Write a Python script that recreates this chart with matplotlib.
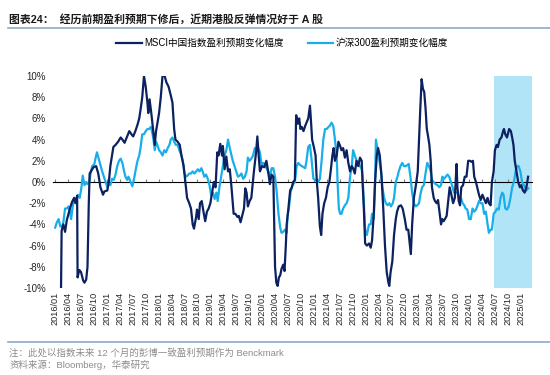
import matplotlib
matplotlib.use("Agg")
import matplotlib.pyplot as plt
import numpy as np

plt.rcParams['font.family'] = ['Liberation Sans', 'Noto Sans CJK SC', 'DejaVu Sans']

# months since 2016/01, value in %
msci_pts = [
    (0, -12.0), (1.3, -12.5), (1.5, -4.6), (1.9, -4.0), (2.3, -4.7), (2.7, -3.6), (3.1, -3.0),
    (3.5, -2.4), (3.9, -1.9), (4.4, -1.5), (4.7, -2.0), (5.1, -1.3), (5.2, -9.0), (5.6, -8.3),
    (6.0, -8.5), (6.5, -9.3), (6.8, -9.5), (7.2, -9.2), (7.5, -8.0), (7.8, -2.0), (8.0, 0.8),
    (8.3, 1.0), (8.9, 1.4), (9.5, 1.5), (10.0, 0.8), (10.5, -0.5), (11.1, -1.2), (11.4, -0.9),
    (12.1, -0.8), (12.5, 0.2), (12.8, 1.5), (13.5, 3.3), (14.0, 3.5), (14.6, 3.8), (15.2, 4.2),
    (15.6, 4.0), (16.1, 3.7), (16.7, 4.3), (17.2, 4.8), (17.7, 4.5), (18.1, 4.3), (18.6, 4.8),
    (19.1, 5.4), (19.5, 6.0), (19.8, 6.8), (20.2, 8.0), (20.6, 10.0), (21.0, 9.0), (21.4, 7.5),
    (21.6, 6.5), (21.9, 7.8), (22.3, 6.5), (22.7, 5.0), (23.1, 3.5), (23.4, 4.8), (23.7, 5.5),
    (24.1, 6.5), (24.5, 8.0), (24.9, 10.0), (25.4, 10.0), (25.8, 9.4), (26.3, 9.0), (26.8, 8.2),
    (27.2, 7.5), (27.6, 5.0), (27.9, 4.0), (28.4, 3.8), (28.9, 3.5), (29.3, 2.5), (29.8, 1.5),
    (30.2, 0.0), (30.6, -1.5), (31.1, -2.0), (31.5, -2.5), (31.9, -4.0), (32.2, -4.4), (32.7, -3.3),
    (32.9, -2.6), (33.3, -3.5), (33.6, -2.0), (34.0, -1.8), (34.4, -2.8), (34.8, -3.7), (35.2, -2.8),
    (35.6, -2.5), (36.0, -2.0), (36.4, -1.0), (36.8, 0.0), (37.2, -0.5), (37.6, 2.8), (37.9, 2.5),
    (38.3, 3.6), (38.7, 2.5), (38.9, 3.4), (39.3, 1.2), (39.7, 2.4), (40.1, 1.0), (40.5, 1.2),
    (40.9, -0.5), (41.4, -3.0), (41.8, -3.0), (42.3, -3.3), (42.6, -3.2), (43.0, -3.8), (43.3, -3.3),
    (43.8, -2.5), (44.1, -0.6), (44.4, -1.0), (44.7, -2.3), (45.1, -1.8), (45.5, -1.5), (46.1, 1.0),
    (46.6, 2.8), (46.9, 4.3), (47.2, 2.5), (47.5, 1.0), (48.0, 1.5), (48.5, 1.4), (49.0, 2.0),
    (49.4, 1.0), (49.8, -0.2), (50.2, 0.7), (50.6, 0.5), (50.8, -3.5), (51.0, -8.0), (51.3, -9.5),
    (51.6, -9.8), (51.9, -9.0), (52.2, -8.8), (52.5, -8.2), (52.9, -7.8), (53.2, -8.4), (53.5, -6.0),
    (53.7, -4.0), (54.1, -2.5), (54.5, -0.8), (54.9, -0.5), (55.2, 0.0), (55.6, 0.2), (55.9, 6.3),
    (56.3, 5.5), (56.6, 6.0), (56.9, 5.0), (57.2, 5.2), (57.6, 4.8), (58.0, 5.3), (58.3, 5.6),
    (58.7, 6.0), (59.1, 7.2), (59.3, 6.0), (59.6, 4.0), (60.0, 3.3), (60.4, 2.5), (60.7, 0.0),
    (61.0, -1.5), (61.4, -4.2), (61.7, -5.0), (62.0, -3.0), (62.4, -2.0), (62.8, -1.5), (63.2, -0.5),
    (63.6, 0.0), (63.9, 1.0), (64.3, 2.5), (64.6, 3.2), (64.9, 2.0), (65.3, 2.5), (65.7, 3.8),
    (66.1, 3.4), (66.4, 3.0), (66.8, 3.2), (67.2, 2.3), (67.6, 3.0), (68.0, 1.8), (68.4, 1.0),
    (68.8, 1.5), (69.1, 1.3), (69.5, 0.8), (69.9, 2.0), (70.3, 1.5), (70.7, 2.3), (71.1, 2.0),
    (71.3, 0.0), (71.6, -2.5), (71.9, -5.8), (72.3, -6.0), (72.8, -5.8), (73.2, -6.2), (73.5, -5.5),
    (73.9, -3.0), (74.2, 0.0), (74.6, 2.5), (74.9, 3.2), (75.3, 2.5), (75.7, 0.5), (76.1, -2.5),
    (76.5, -6.0), (76.9, -8.5), (77.3, -9.5), (77.5, -9.8), (77.8, -8.5), (78.2, -7.5), (78.6, -5.0),
    (79.0, -3.5), (79.3, -2.8), (79.7, -2.3), (80.2, -2.2), (80.6, -2.5), (81.1, -3.5), (81.5, -4.5),
    (81.9, -4.5), (82.3, -6.0), (82.5, -6.8), (82.8, -4.0), (83.2, -1.5), (83.6, -0.5), (84.1, 1.0),
    (84.4, 4.0), (84.7, 7.0), (85.0, 9.7), (85.3, 8.8), (85.6, 8.5), (85.9, 7.0), (86.2, 5.0),
    (86.5, 4.3), (86.8, 3.5), (87.1, 2.0), (87.4, -0.5), (87.8, -1.5), (88.1, -1.8), (88.5, -2.0),
    (88.8, -1.7), (89.2, -3.0), (89.5, -4.0), (89.8, -3.5), (90.1, -3.7), (90.4, -3.5), (90.8, -3.2),
    (91.2, -1.7), (91.5, -0.5), (91.9, -1.2), (92.3, -2.0), (92.7, -1.5), (93.1, 1.7), (93.3, -0.5),
    (93.6, -1.8), (93.9, -2.2), (94.2, -0.5), (94.6, -0.3), (95.0, 0.5), (95.4, 0.5), (95.8, 2.0),
    (96.2, 2.0), (96.6, 1.9), (96.9, 2.0), (97.2, 0.5), (97.6, 0.0), (97.9, -0.5), (98.3, -1.2),
    (98.7, -1.7), (99.1, -1.2), (99.5, -1.6), (99.9, -2.0), (100.3, -1.5), (100.6, -2.0), (101.0, -2.2),
    (101.3, 0.0), (101.7, 1.0), (102.0, 3.0), (102.4, 3.5), (102.7, 3.3), (103.1, 4.0), (103.5, 4.2),
    (103.9, 4.8), (104.1, 5.0), (104.4, 4.5), (104.8, 4.2), (105.3, 5.0), (105.7, 4.8), (106.0, 4.2),
    (106.3, 3.5), (106.6, 2.0), (107.0, 1.0), (107.4, 0.0), (107.8, -0.5), (108.1, -0.3), (108.5, -0.8),
    (108.9, -1.0), (109.3, -0.5), (109.7, 0.5),
]

csi_pts = [
    (0.0, -4.3), (0.4, -3.8), (0.8, -3.5), (1.2, -4.2), (1.6, -4.2), (1.9, -3.8), (2.3, -2.5),
    (2.7, -2.5), (3.1, -2.3), (3.5, -3.0), (3.7, -3.5), (4.1, -2.2), (4.4, -1.5), (4.9, -1.7),
    (5.3, -1.2), (5.7, -1.5), (6.1, -0.5), (6.4, 0.6), (6.8, -0.3), (7.2, 0.0), (7.5, -0.2),
    (7.9, 0.0), (8.3, 1.0), (8.6, 1.5), (9.1, 1.7), (9.4, 2.3), (9.7, 2.8), (10.1, 2.2),
    (10.5, 1.6), (10.9, 1.0), (11.3, 0.5), (11.7, 0.0), (12.1, -0.5), (12.5, -0.2), (12.8, -0.3),
    (13.2, 0.3), (13.6, 0.2), (14.0, 0.7), (14.4, 1.5), (14.8, 2.0), (15.2, 2.2), (15.6, 1.8),
    (16.0, 1.0), (16.3, 0.5), (16.7, 0.2), (17.0, 0.5), (17.5, 0.0), (17.9, -0.4), (18.3, 0.3),
    (18.7, 1.2), (19.1, 2.0), (19.5, 2.5), (19.8, 3.2), (20.2, 4.5), (20.6, 4.5), (21.0, 4.8),
    (21.4, 5.0), (21.8, 5.0), (22.2, 5.2), (22.6, 4.5), (22.8, 4.0), (23.1, 3.0), (23.4, 3.8),
    (23.7, 3.5), (24.1, 3.0), (24.5, 2.8), (24.9, 2.5), (25.3, 3.0), (25.7, 2.8), (26.1, 3.2),
    (26.5, 3.5), (26.8, 4.0), (27.2, 4.2), (27.6, 3.8), (28.0, 3.5), (28.4, 3.5), (28.8, 3.0),
    (29.2, 2.6), (29.6, 2.0), (30.0, 0.8), (30.4, 0.5), (30.7, 0.6), (31.1, 0.8), (31.5, 0.8),
    (31.9, 1.0), (32.3, 0.8), (32.7, 1.0), (33.1, 1.2), (33.5, 1.0), (33.9, 1.3), (34.2, 1.0),
    (34.6, 0.5), (35.0, 0.7), (35.4, 0.3), (35.8, -0.3), (36.2, -1.3), (36.6, -1.0), (37.0, -1.6),
    (37.4, -1.0), (37.7, -1.8), (38.1, -0.5), (38.5, 0.5), (38.9, 1.5), (39.3, 2.5), (39.7, 3.0),
    (40.1, 4.0), (40.5, 3.2), (40.9, 2.5), (41.2, 2.0), (41.6, 1.5), (42.0, 1.0), (42.4, 0.5),
    (42.8, 0.6), (43.2, 0.8), (43.6, 0.3), (44.0, 0.5), (44.4, 1.0), (44.7, 2.3), (45.1, 2.0),
    (45.5, 2.2), (45.9, 2.5), (46.3, 3.2), (46.7, 3.0), (47.1, 3.2), (47.5, 2.8), (47.9, 1.5),
    (48.2, 1.8), (48.6, 1.7), (49.0, 1.3), (49.4, 1.0), (49.8, 0.5), (50.2, 1.3), (50.6, 1.3),
    (51.0, 0.5), (51.4, -1.0), (51.8, -3.0), (52.2, -4.3), (52.5, -4.8), (52.9, -4.7), (53.3, -4.5),
    (53.7, -4.8), (53.9, -3.2), (54.2, -2.5), (54.6, -1.0), (54.9, -0.5), (55.2, -0.2), (55.6, 0.0),
    (56.0, 1.5), (56.4, 1.8), (56.8, 1.6), (57.2, 1.5), (57.6, 1.4), (58.0, 1.3), (58.3, 2.0),
    (58.7, 3.3), (59.1, 3.5), (59.5, 2.0), (59.9, 0.3), (60.3, 0.2), (60.7, 0.2), (61.0, 0.0),
    (61.4, 0.3), (61.8, 2.0), (62.2, 4.0), (62.6, 5.0), (63.0, 5.0), (63.4, 5.2), (63.7, 5.3),
    (64.1, 5.6), (64.5, 5.3), (64.9, 4.0), (65.3, 2.5), (65.5, 0.0), (65.8, -2.5), (66.1, -3.0),
    (66.4, -3.0), (66.8, -2.5), (67.2, -2.2), (67.6, -2.0), (68.0, -1.5), (68.4, 0.5), (68.8, 1.5),
    (69.1, 3.0), (69.5, 2.5), (69.9, 2.0), (70.3, 1.8), (70.7, 1.5), (71.1, 1.2), (71.3, 0.5),
    (71.6, -2.0), (71.9, -4.5), (72.3, -5.0), (72.8, -4.0), (73.2, -4.0), (73.5, -3.0), (73.9, -3.5),
    (74.2, 0.0), (74.4, 4.0), (74.8, 3.0), (75.2, 2.0), (75.6, 1.0), (75.9, -0.5), (76.3, -1.5),
    (76.7, -2.0), (77.1, -2.2), (77.5, -2.0), (77.9, -2.3), (78.3, -2.0), (78.6, -1.5), (79.0, 0.0),
    (79.4, 0.5), (79.7, 1.0), (80.1, 1.5), (80.5, 1.8), (80.9, 1.5), (81.3, 1.5), (81.7, 1.6),
    (82.0, 1.7), (82.4, 0.5), (82.8, -1.0), (83.2, -2.0), (83.6, -2.3), (84.0, -2.2), (84.4, -2.0),
    (84.7, -1.2), (85.1, -0.5), (85.5, -0.3), (85.9, 0.8), (86.3, 1.8), (86.7, 1.5), (87.1, 1.0),
    (87.4, 0.2), (87.8, 0.0), (88.2, -0.2), (88.7, -0.3), (89.1, -0.5), (89.5, -0.3), (89.8, 0.5),
    (90.2, 0.3), (90.6, 0.5), (91.0, 0.7), (91.4, 0.5), (91.8, 0.0), (92.2, -0.5), (92.5, -1.0),
    (92.9, -1.0), (93.3, -1.0), (93.7, -1.5), (94.1, -1.5), (94.5, -2.0), (94.9, -2.2), (95.2, -2.5),
    (95.6, -2.6), (96.0, -3.5), (96.4, -3.5), (96.8, -2.5), (97.2, -2.8), (97.6, -2.6), (97.9, -2.3),
    (98.3, -1.8), (98.7, -2.0), (99.1, -2.0), (99.5, -3.0), (99.9, -2.8), (100.3, -4.0), (100.6, -4.8),
    (101.0, -4.5), (101.3, -4.5), (101.7, -3.0), (102.1, -2.8), (102.5, -2.5), (102.9, -2.6),
    (103.3, -1.5), (103.7, -1.0), (104.0, -1.2), (104.4, -2.5), (104.8, -2.6), (105.2, -2.3),
    (105.6, -1.5), (106.0, -0.5), (106.4, 0.0), (106.8, 1.0), (107.1, 1.5), (107.5, 1.5), (107.9, 1.0),
    (108.3, 0.0), (108.7, -0.3), (109.1, -0.6), (109.3, -0.8), (109.7, -0.6),
]

tick_months = list(range(0, 109, 3))
tick_labels = [f"{2016 + m // 12}/{m % 12 + 1:02d}" for m in tick_months]
highlight = (101.9, 110.6)

msci_t, msci_v = zip(*msci_pts)
csi_t, csi_v = zip(*csi_pts)

navy = '#0B2160'
sky = '#18AEEA'

fig = plt.figure(figsize=(5.5, 3.75), dpi=100)
ax = fig.add_axes([53 / 550, 1 - 288 / 375, 479 / 550, 212 / 375])

ax.axvspan(*highlight, color='#B2E4F8', lw=0, zorder=0)
ax.plot(msci_t, msci_v, color=navy, lw=1.6, label='MSCI中国指数盈利预期变化幅度', zorder=3)
ax.plot(csi_t, csi_v, color=sky, lw=1.6, label='沪深300盈利预期变化幅度', zorder=2)

ax.set_xlim(-0.5, highlight[1])
ax.set_ylim(-10, 10)
ax.set_yticks(np.arange(-10, 11, 2))
ax.set_yticklabels([f"{v}%" for v in range(-10, 11, 2)], fontsize=7, color='#262626')
ax.set_xticks(tick_months)
ax.set_xticklabels(tick_labels, rotation=90, fontsize=6.6, color='#262626')
ax.tick_params(axis='both', length=0)
ax.tick_params(axis='y', pad=5)
ax.tick_params(axis='x', pad=3)
for s in ax.spines.values():
    s.set_visible(False)

# zero line with small category ticks
zero = ax.secondary_xaxis(0.5)
zero.set_xticks(tick_months)
zero.set_xticklabels([])
zero.tick_params(length=2.5, width=0.8, color='#808080', direction='out')
zero.spines['bottom'].set_color('#808080')
zero.spines['bottom'].set_linewidth(1.0)
zero.spines['bottom'].set_zorder(1)

fig.legend(loc='center', bbox_to_anchor=(282 / 550, 1 - 43 / 375), ncol=2, frameon=False,
           fontsize=6.9, handlelength=2.7, handletextpad=0.2, columnspacing=2.5)

fig.text(9 / 550, 1 - 19 / 375, '图表24：  经历前期盈利预期下修后，近期港股反弹情况好于 A 股',
         fontsize=7.8, fontweight='bold', color='#1A1A1A', va='center', ha='left')
fig.add_artist(plt.Line2D([8 / 550, 1], [1 - 28 / 375] * 2, color='#8FAACB', lw=1.2))
fig.add_artist(plt.Line2D([8 / 550, 1], [1 - 342 / 375] * 2, color='#8FAACB', lw=1.2))
fig.text(9 / 550, 1 - 353 / 375, '注：此处以指数未来 12 个月的彭博一致盈利预期作为 Benckmark',
         fontsize=6.8, color='#8C8C8C', va='center', ha='left')
fig.text(9 / 550, 1 - 365 / 375, '资料来源：Bloomberg，华泰研究',
         fontsize=6.8, color='#8C8C8C', va='center', ha='left')

fig.savefig('out.png', dpi=100)
